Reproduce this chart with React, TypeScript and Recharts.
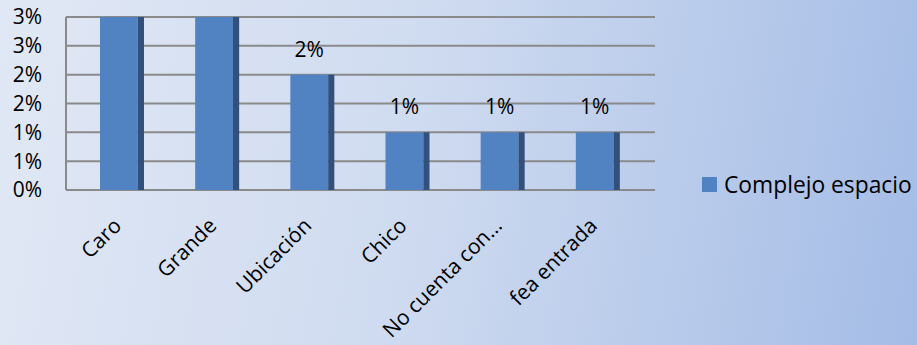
import React from "react";
import { BarChart, Bar, XAxis, YAxis, CartesianGrid, LabelList } from "recharts";

const categories = ["Caro", "Grande", "Ubicación", "Chico", "No cuenta con…", "fea entrada"];
const complejoEspacio = [3, 3, 2, 1, 1, 1];
const yTicks = [0, 0.5, 1, 1.5, 2, 2.5, 3];
const seriesName = "Complejo espacio";

const data = categories.map((c, i) => ({ name: c, value: complejoEspacio[i] }));

const FONT = "'Open Sans', sans-serif";
const FRONT = "#5182c2";
const SIDE = "#31507c";

const BarShape = (props: any) => {
  const { x, y, width, height } = props;
  if (height <= 0) return null;
  const front = width * 0.86;
  return (
    <g>
      <rect x={x} y={y} width={front} height={height} fill={FRONT} />
      <rect x={x + front} y={y} width={width - front} height={height} fill={SIDE} />
    </g>
  );
};

const XTick = (props: any) => {
  const { x, y, payload } = props;
  const ax = x + 1;
  const ay = y + 29;
  return (
    <text
      x={ax}
      y={ay}
      textAnchor="end"
      transform={`rotate(-45, ${ax}, ${ay})`}
      fontFamily={FONT}
      fontSize={21}
      fill="#000"
    >
      {payload.value}
    </text>
  );
};

const TopLabel = (props: any) => {
  const { x, y, width, value } = props;
  return (
    <text
      x={x + width * 0.43}
      y={y - 18}
      textAnchor="middle"
      fontFamily={FONT}
      fontSize={21}
      fill="#000"
    >
      {Math.round(value) + "%"}
    </text>
  );
};

export default function App() {
  return (
    <div
      style={{
        position: "absolute",
        left: 0,
        top: 0,
        width: 917,
        height: 345,
        background: "linear-gradient(100deg, #e1e8f5 0%, #cfdbf0 45%, #a4bce6 100%)",
      }}
    >
      <BarChart
        width={917}
        height={345}
        data={data}
        margin={{ top: 17, right: 262, left: 0, bottom: 0 }}
        barSize={44}
      >
        <CartesianGrid vertical={false} stroke="#8a8a8a" strokeWidth={2} />
        <XAxis
          dataKey="name"
          height={155}
          axisLine={false}
          tickLine={false}
          interval={0}
          padding={{ left: 8, right: 10 }}
          tick={<XTick />}
        />
        <YAxis
          width={66}
          domain={[0, 3]}
          ticks={yTicks}
          interval={0}
          tickFormatter={(v: number) => Math.round(v) + "%"}
          axisLine={{ stroke: "#8a8a8a", strokeWidth: 2 }}
          tickLine={false}
          tickSize={0}
          tickMargin={24}
          tick={{ fontFamily: FONT, fontSize: 21, fill: "#000" }}
          allowDataOverflow
        />
        <Bar dataKey="value" name={seriesName} shape={<BarShape />} isAnimationActive={false}>
          <LabelList dataKey="value" content={<TopLabel />} />
        </Bar>
      </BarChart>
      <div
        style={{
          position: "absolute",
          left: 702,
          top: 169,
          display: "flex",
          alignItems: "center",
          fontFamily: FONT,
          fontSize: 22.8,
          color: "#000",
          whiteSpace: "nowrap",
        }}
      >
        <span style={{ display: "inline-block", width: 15, height: 15, background: FRONT, marginRight: 7 }} />
        <span>{seriesName}</span>
      </div>
    </div>
  );
}
